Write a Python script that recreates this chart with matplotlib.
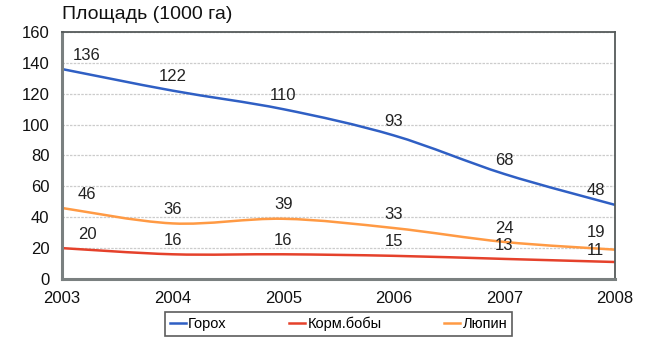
import numpy as np
import matplotlib.pyplot as plt
from matplotlib.path import Path
from matplotlib.patches import PathPatch

plt.rcParams['font.family'] = ['Liberation Sans', 'DejaVu Sans']

years = [2003, 2004, 2005, 2006, 2007, 2008]
gorokh = [136, 122, 110, 93, 68, 48]
korm_boby = [20, 16, 16, 15, 13, 11]
lupin = [46, 36, 39, 33, 24, 19]

series_names = ['Горох', 'Корм.бобы', 'Люпин']
colors = ['#2f5fc4', '#e5412b', '#ff9a44']


def smooth_path(x, y):
    # catmull-rom style bezier through the points (like excel smoothed lines)
    x = np.asarray(x, float)
    y = np.asarray(y, float)
    verts = [(x[0], y[0])]
    codes = [Path.MOVETO]
    n = len(x)
    for i in range(n - 1):
        i0 = max(i - 1, 0)
        i3 = min(i + 2, n - 1)
        c1 = (x[i] + (x[i + 1] - x[i0]) / 6., y[i] + (y[i + 1] - y[i0]) / 6.)
        c2 = (x[i + 1] - (x[i3] - x[i]) / 6., y[i + 1] - (y[i3] - y[i]) / 6.)
        verts += [c1, c2, (x[i + 1], y[i + 1])]
        codes += [Path.CURVE4] * 3
    return Path(verts, codes)


fig = plt.figure(figsize=(6.45, 3.44), dpi=100)
ax = fig.add_axes([0.0961, 0.189, 0.8574, 0.718])

all_series = [gorokh, korm_boby, lupin]
for k, (vals, name, col) in enumerate(zip(all_series, series_names, colors)):
    patch = PathPatch(smooth_path(years, vals), facecolor='none', edgecolor=col, lw=1.8)
    ax.add_patch(patch)
    ax.plot([], [], color=col, lw=1.8, label=name)
    for i, (xv, yv) in enumerate(zip(years, vals)):
        dx = 0
        dy = 10
        if i == 0:
            dx = 18
        elif i == len(years) - 1:
            dx = -14
            if k == 2:
                dy = 12
            elif k == 1:
                dy = 8.5
        ax.annotate(str(yv), (xv, yv), xytext=(dx, dy), textcoords='offset points',
                    ha='center', va='center', fontsize=12, color='#222222')

ax.set_xlim(2003, 2008)
ax.set_ylim(0, 160)
ax.set_xticks(years)
ax.set_yticks(range(0, 161, 20))
ax.tick_params(length=0, labelsize=12, colors='#111111')
ax.tick_params(axis='x', pad=9)
ax.tick_params(axis='y', pad=9)
ax.yaxis.grid(True, color='#cccccc', linestyle=(0, (2, 1)), lw=0.9)
ax.set_axisbelow(True)
for s in ['left', 'bottom']:
    ax.spines[s].set_color('#7a8080')
    ax.spines[s].set_linewidth(2.2)
for s in ['top', 'right']:
    ax.spines[s].set_color('#555a5a')
    ax.spines[s].set_linewidth(1.3)

fig.text(0.0961, 0.958, 'Площадь (1000 га)', fontsize=14, ha='left', va='center', color='#111111')

leg = fig.legend(loc='upper center', bbox_to_anchor=(0.525, 0.092), ncol=3, fontsize=10.5,
                 frameon=True, fancybox=False, handlelength=1.1, handletextpad=0.15,
                 columnspacing=4.3, borderpad=0.3, borderaxespad=0)
leg.get_frame().set_edgecolor('#333333')
leg.get_frame().set_linewidth(1.2)

fig.savefig('out.png', dpi=100)
